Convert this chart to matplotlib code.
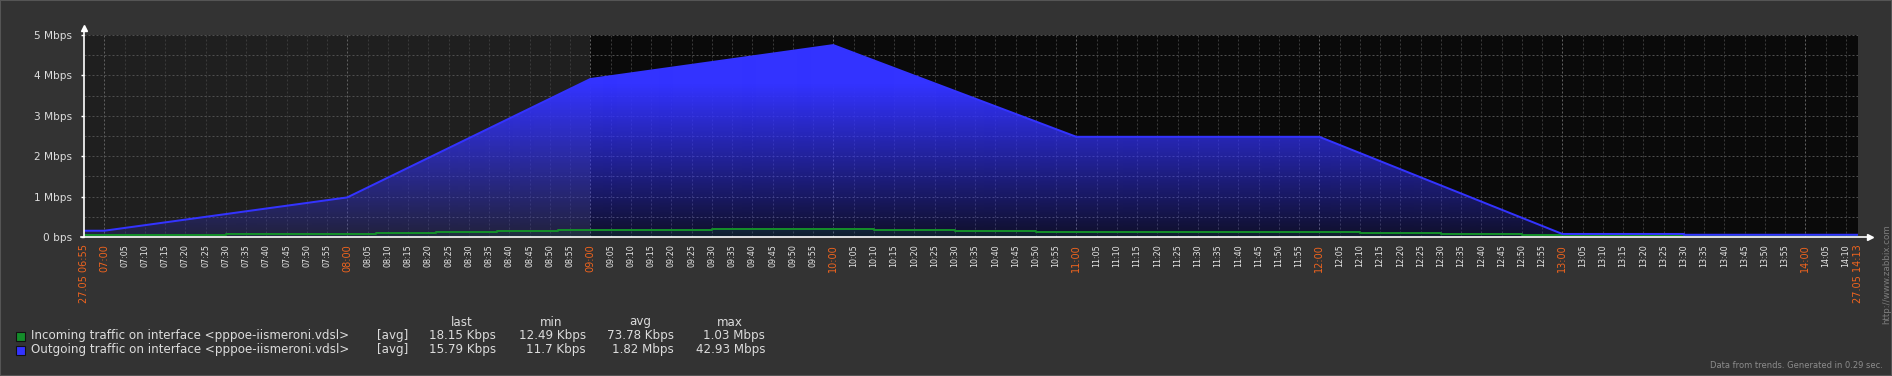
import matplotlib
matplotlib.use("Agg")
import matplotlib.pyplot as plt
import matplotlib.transforms as mtransforms
from matplotlib.patches import Rectangle
import numpy as np

W, H = 1892, 376

# series data (Mbps)
out_times = ["06:55", "07:00", "08:00", "09:00", "10:00", "11:00", "12:00", "13:00", "13:30", "13:30", "14:13"]
out_mbps = [0.155, 0.155, 0.98, 3.91, 4.75, 2.48, 2.48, 0.075, 0.075, 0.055, 0.055]

in_times = ["06:55", "07:30", "08:07", "08:22", "08:37", "08:52", "09:30", "10:10",
            "10:30", "10:50", "12:10", "12:30", "12:50", "14:13"]
in_mbps = [0.057, 0.082, 0.107, 0.131, 0.156, 0.18, 0.206, 0.18,
           0.156, 0.131, 0.107, 0.082, 0.057, 0.057]

y_labels = ["0 bps", "1 Mbps", "2 Mbps", "3 Mbps", "4 Mbps", "5 Mbps"]
start_label = "27.05 06:55"
end_label = "27.05 14:13"
work_start = "09:00"

legend_names = ["Incoming traffic on interface <pppoe-iismeroni.vdsl>",
                "Outgoing traffic on interface <pppoe-iismeroni.vdsl>"]
legend_cols = ["last", "min", "avg", "max"]
legend_in = ["18.15 Kbps", "12.49 Kbps", "73.78 Kbps", "1.03 Mbps"]
legend_out = ["15.79 Kbps", "11.7 Kbps", "1.82 Mbps", "42.93 Mbps"]

GREEN = "#148c2a"
BLUE = "#3333ff"
ORANGE = "#f0641e"


def to_min(t):
    h, m = t.split(":")
    return int(h) * 60 + int(m) - (6 * 60 + 55)


x_end = to_min("14:13")
y_max = 5.0

fig = plt.figure(figsize=(W / 100, H / 100), dpi=100, facecolor="#333333")
ax = fig.add_axes([84 / W, 1 - 237 / H, (1858 - 84) / W, 202 / H])
ax.set_xlim(0, x_end)
ax.set_ylim(0, y_max)
ax.set_facecolor("none")
for s in ax.spines.values():
    s.set_visible(False)

# work / non work time background
ax.axvspan(0, to_min(work_start), color="#1f1f1f", lw=0, zorder=0)
ax.axvspan(to_min(work_start), x_end, color="#0a0a0a", lw=0, zorder=0)

# grid
for m in range(5, x_end, 5):
    hour = (m + 55) % 60 == 0
    ax.axvline(m, color="#606060" if hour else "#3a3a3a", lw=0.72,
               ls=(0, (2, 2)), zorder=1)
for v in np.arange(0.5, y_max + 0.01, 0.5):
    ax.axhline(v, color="#4e4e4e", lw=0.72, ls=(0, (2, 2)), zorder=1)


def gradient(rgb):
    # zabbix style: opaque near top, fading to the bottom of the plot
    n = 202
    d = np.arange(n) + 0.5
    alpha = np.where(d < 50, 1.0, 1 - (110 / (n - 50)) * (d - 50) / 127)
    img = np.zeros((n, 1, 4))
    img[:, 0, :3] = rgb
    img[:, 0, 3] = alpha
    return img


def grad_fill(x, y, color, step=None, z=2):
    poly = ax.fill_between(x, y, 0, step=step, facecolor="none", edgecolor="none")
    rgb = matplotlib.colors.to_rgb(color)
    im = ax.imshow(gradient(rgb), extent=[0, x_end, 0, y_max], aspect="auto",
                   origin="upper", interpolation="bilinear", zorder=z)
    im.set_clip_path(poly.get_paths()[0], ax.transData)


xi = [to_min(t) for t in in_times]
xo = [to_min(t) for t in out_times]
grad_fill(xi, in_mbps, GREEN, step="post", z=2)
grad_fill(xo, out_mbps, BLUE, z=3)
ax.plot(xi, in_mbps, color=GREEN, lw=1.44, drawstyle="steps-post", zorder=4,
        solid_capstyle="butt")
ax.plot(xo, out_mbps, color=BLUE, lw=1.44, zorder=5, solid_capstyle="butt")
ax.set_xticks([])

# y axis
ax.set_yticks(range(6))
ax.set_yticklabels(y_labels)
ax.tick_params(axis="y", length=2.5, width=1, color="white", labelcolor="#dcdcdc",
               labelsize=7.6, pad=6)

# axis lines with arrows
ax.plot([0, 0], [0, 1.035], color="white", lw=1.2, transform=ax.transAxes,
        clip_on=False, zorder=6)
ax.plot([0], [1.035], marker="^", ms=5, color="white", transform=ax.transAxes,
        clip_on=False, zorder=6)
ax.plot([-0.0015, 1.0068], [0, 0], color="white", lw=1.2, transform=ax.transAxes,
        clip_on=False, zorder=6)
ax.plot([1.0068], [0], marker=">", ms=5, color="white", transform=ax.transAxes,
        clip_on=False, zorder=6)

# x labels
trans = mtransforms.blended_transform_factory(ax.transData, ax.transAxes) + \
    mtransforms.ScaledTranslation(0, -7 / 100, fig.dpi_scale_trans)
for m in range(5, x_end, 5):
    total = m + 6 * 60 + 55
    lab = "%02d:%02d" % (total // 60, total % 60)
    hour = total % 60 == 0
    ax.text(m, 0, lab, transform=trans, rotation=90, ha="center", va="top",
            fontsize=7 if hour else 5.8, color=ORANGE if hour else "#e6e6e6")
ax.text(0, 0, start_label, transform=trans, rotation=90, ha="center", va="top",
        fontsize=7, color=ORANGE)
ax.text(x_end, 0, end_label, transform=trans, rotation=90, ha="center", va="top",
        fontsize=7, color=ORANGE)


def fx(px):
    return px / W


def fy(py):
    return 1 - py / H


# legend
col_right = [496, 586, 674, 765]
col_center = [462, 551, 640, 730]
for c, lab in zip(col_center, legend_cols):
    fig.text(fx(c), fy(322), lab, ha="center", va="center", fontsize=8.6, color="#dcdcdc")
rows = [(336, GREEN, legend_names[0], legend_in), (350, BLUE, legend_names[1], legend_out)]
for yy, col, name, vals in rows:
    fig.add_artist(Rectangle((fx(16), fy(yy + 4.5)), 9 / W, 9 / H, transform=fig.transFigure,
                             facecolor=col, edgecolor="#111111", lw=0.8))
    fig.text(fx(31), fy(yy), name, ha="left", va="center", fontsize=8.6, color="#dcdcdc")
    fig.text(fx(377), fy(yy), "[avg]", ha="left", va="center", fontsize=8.6, color="#dcdcdc")
    for r, v in zip(col_right, vals):
        fig.text(fx(r), fy(yy), v, ha="right", va="center", fontsize=8.6, color="#dcdcdc")

fig.text(fx(1887), fy(274), "http://www.zabbix.com", rotation=90, ha="center", va="center",
         fontsize=6.3, color="#7c7c7c")
fig.text(fx(1883), fy(366), "Data from trends. Generated in 0.29 sec.", ha="right",
         va="center", fontsize=6, color="#8c8c8c")

fig.add_artist(Rectangle((0, 0), 1, 1, transform=fig.transFigure, facecolor="none",
                         edgecolor="#555555", lw=1.5))

fig.savefig("out.png", dpi=100, facecolor=fig.get_facecolor())
